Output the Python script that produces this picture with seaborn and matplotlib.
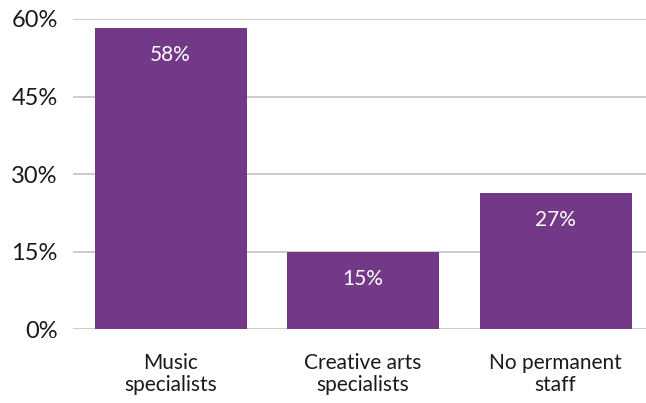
import matplotlib
matplotlib.use("Agg")
import matplotlib.pyplot as plt
import seaborn as sns
import pandas as pd

categories = ["Music\nspecialists", "Creative arts\nspecialists", "No permanent\nstaff"]
values = [58.2, 15.0, 26.4]
value_labels = ["58%", "15%", "27%"]
y_ticks = [0, 15, 30, 45, 60]
y_tick_labels = ["0%", "15%", "30%", "45%", "60%"]

sns.set_theme(style="white")
plt.rcParams['font.family'] = ['Lato', 'DejaVu Sans']

df = pd.DataFrame({"cat": categories, "val": values})
fig = plt.figure(figsize=(6.46, 4.03), dpi=100)
ax = fig.add_axes([0.113, 0.183, 0.887, 0.770])
ax.set_axisbelow(True)
sns.barplot(data=df, x="cat", y="val", color="#743889", saturation=1, width=0.79, ax=ax)
for p in ax.patches:
    p.set_edgecolor("none")

ax.set_ylim(0, 60)
ax.set_xlim(-0.507, 2.47)
ax.set_yticks(y_ticks)
ax.set_yticklabels(y_tick_labels)
ax.yaxis.grid(True, color="#bfbfbf", linewidth=1.1)
for s in ax.spines.values():
    s.set_visible(False)
ax.tick_params(axis="y", length=0, pad=11, labelsize=17, labelcolor="#1a1a1a")
ax.tick_params(axis="x", length=0, pad=17, labelsize=15, labelcolor="#1a1a1a")
for t in ax.get_xticklabels():
    t.set_linespacing(1.15)
ax.set_xlabel("")
ax.set_ylabel("")

for i, (v, lab) in enumerate(zip(values, value_labels)):
    ax.annotate(lab, xy=(i, v), xytext=(0, -27), textcoords="offset pixels",
                ha="center", va="center", color="white", fontsize=15)

fig.savefig("out.png", dpi=100)
